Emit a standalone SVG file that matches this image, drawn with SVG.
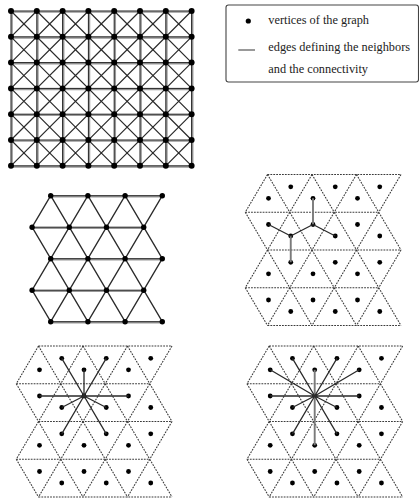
<svg xmlns="http://www.w3.org/2000/svg" xmlns:xlink="http://www.w3.org/1999/xlink" width="419" height="498" viewBox="0 0 419 498">
<style>
.dk{fill:none;stroke:#222;stroke-width:1}
.dgd{fill:none;stroke:#2a2a2a;stroke-width:1.2}
.gr{fill:none;stroke:#999;stroke-width:1.7}
.dg{fill:none;stroke:#2a2a2a;stroke-width:1.3}
.dash{fill:none;stroke:#3a3a3a;stroke-width:1.1;stroke-dasharray:1.8 1.1}
.ed{fill:none;stroke:#2a2a2a;stroke-width:1.3}
.ev{fill:none;stroke:#7a7a7a;stroke-width:1.9}
.dot{fill:#000}
.txt{font-family:"Liberation Serif","Times New Roman",serif;font-size:12.3px;fill:#222}
</style>
<defs>
<path id="gH" d="M11 11H191.6M11 36.8H191.6M11 62.6H191.6M11 88.4H191.6M11 114.2H191.6M11 140H191.6M11 165.8H191.6"/>
<path id="gV" d="M11 11V165.8M36.8 11V165.8M62.6 11V165.8M88.4 11V165.8M114.2 11V165.8M140 11V165.8M165.8 11V165.8M191.6 11V165.8"/>
<g id="gRow">
<circle cx="11" cy="0" r="3"/><circle cx="36.8" cy="0" r="3"/><circle cx="62.6" cy="0" r="3"/><circle cx="88.4" cy="0" r="3"/><circle cx="114.2" cy="0" r="3"/><circle cx="140" cy="0" r="3"/><circle cx="165.8" cy="0" r="3"/><circle cx="191.6" cy="0" r="3"/>
</g>
<path id="tH" d="M50.7 195.7H162.3M32.1 227.2H143.7M50.7 258.7H162.3M32.1 290.2H143.7M50.7 321.7H162.3"/>
<path id="tS" d="M50.7 195.7L32.1 227.2M50.7 195.7L69.3 227.2M87.9 195.7L69.3 227.2M87.9 195.7L106.5 227.2M125.1 195.7L106.5 227.2M125.1 195.7L143.7 227.2M162.3 195.7L143.7 227.2M32.1 227.2L50.7 258.7M69.3 227.2L50.7 258.7M69.3 227.2L87.9 258.7M106.5 227.2L87.9 258.7M106.5 227.2L125.1 258.7M143.7 227.2L125.1 258.7M143.7 227.2L162.3 258.7"/>
<g id="tR">
<circle cx="50.7" cy="0" r="2.7"/><circle cx="87.9" cy="0" r="2.7"/><circle cx="125.1" cy="0" r="2.7"/><circle cx="162.3" cy="0" r="2.7"/>
</g>
<g id="tL">
<circle cx="32.1" cy="0" r="2.7"/><circle cx="69.3" cy="0" r="2.7"/><circle cx="106.5" cy="0" r="2.7"/><circle cx="143.7" cy="0" r="2.7"/>
</g>
<g id="lat">
<path class="dash" d="M0 0H133.5M-22.25 37.75H111.25M0 75.5H133.5M-22.25 113.25H111.25M0 151H133.5"/>
<path id="sAB" class="dash" d="M0 0L-22.25 37.75M0 0L22.25 37.75M44.5 0L22.25 37.75M44.5 0L66.75 37.75M89 0L66.75 37.75M89 0L111.25 37.75M133.5 0L111.25 37.75M-22.25 37.75L0 75.5M22.25 37.75L0 75.5M22.25 37.75L44.5 75.5M66.75 37.75L44.5 75.5M66.75 37.75L89 75.5M111.25 37.75L89 75.5M111.25 37.75L133.5 75.5"/>
<use xlink:href="#sAB" href="#sAB" y="75.5"/>
<g class="dot">
<circle cx="23.25" cy="12.3" r="2.4"/><circle cx="67.75" cy="12.3" r="2.4"/><circle cx="112.25" cy="12.3" r="2.4"/>
<circle cx="1" cy="23.8" r="2.4"/><circle cx="45.5" cy="23.8" r="2.4"/><circle cx="90" cy="23.8" r="2.4"/>
<circle cx="1" cy="50" r="2.4"/><circle cx="45.5" cy="50" r="2.4"/><circle cx="90" cy="50" r="2.4"/>
<circle cx="23.25" cy="61.5" r="2.4"/><circle cx="67.75" cy="61.5" r="2.4"/><circle cx="112.25" cy="61.5" r="2.4"/>
<circle cx="23.25" cy="87.8" r="2.4"/><circle cx="67.75" cy="87.8" r="2.4"/><circle cx="112.25" cy="87.8" r="2.4"/>
<circle cx="1" cy="99.3" r="2.4"/><circle cx="45.5" cy="99.3" r="2.4"/><circle cx="90" cy="99.3" r="2.4"/>
<circle cx="1" cy="125.5" r="2.4"/><circle cx="45.5" cy="125.5" r="2.4"/><circle cx="90" cy="125.5" r="2.4"/>
<circle cx="23.25" cy="137" r="2.4"/><circle cx="67.75" cy="137" r="2.4"/><circle cx="112.25" cy="137" r="2.4"/>
</g>
</g>
</defs>

<g id="square-grid">
<use xlink:href="#gH" href="#gH" class="gr" y="1"/>
<use xlink:href="#gV" href="#gV" class="gr" x="1"/>
<use xlink:href="#gH" href="#gH" class="dk"/>
<use xlink:href="#gV" href="#gV" class="dk"/>
<path class="dgd" d="M11 11L165.8 165.8M36.8 11L191.6 165.8M62.6 11L191.6 140M88.4 11L191.6 114.2M114.2 11L191.6 88.4M140 11L191.6 62.6M165.8 11L191.6 36.8M11 36.8L140 165.8M11 62.6L114.2 165.8M11 88.4L88.4 165.8M11 114.2L62.6 165.8M11 140L36.8 165.8M36.8 11L11 36.8M62.6 11L11 62.6M88.4 11L11 88.4M114.2 11L11 114.2M140 11L11 140M165.8 11L11 165.8M191.6 11L36.8 165.8M191.6 36.8L62.6 165.8M191.6 62.6L88.4 165.8M191.6 88.4L114.2 165.8M191.6 114.2L140 165.8M191.6 140L165.8 165.8"/>
<g class="dot">
<use xlink:href="#gRow" href="#gRow" y="11"/>
<use xlink:href="#gRow" href="#gRow" y="36.8"/>
<use xlink:href="#gRow" href="#gRow" y="62.6"/>
<use xlink:href="#gRow" href="#gRow" y="88.4"/>
<use xlink:href="#gRow" href="#gRow" y="114.2"/>
<use xlink:href="#gRow" href="#gRow" y="140"/>
<use xlink:href="#gRow" href="#gRow" y="165.8"/>
</g>
</g>

<g id="legend">
<rect x="226" y="5" width="192.5" height="77" rx="2.5" fill="#fff" stroke="#444" stroke-width="1.1"/>
<circle cx="248.3" cy="21" r="2.6" fill="#000"/>
<line x1="238.3" y1="50" x2="255" y2="50" stroke="#999" stroke-width="2"/>
<text class="txt" x="268.3" y="24">vertices of the graph</text>
<text class="txt" x="268.3" y="51">edges defining the neighbors</text>
<text class="txt" x="268.3" y="73">and the connectivity</text>
</g>

<g id="triangle-lattice">
<use xlink:href="#tH" href="#tH" class="gr" y="1"/>
<use xlink:href="#tH" href="#tH" class="dk"/>
<use xlink:href="#tS" href="#tS" class="dg"/>
<use xlink:href="#tS" href="#tS" class="dg" y="63"/>
<g class="dot">
<use xlink:href="#tR" href="#tR" y="195.7"/>
<use xlink:href="#tL" href="#tL" y="227.2"/>
<use xlink:href="#tR" href="#tR" y="258.7"/>
<use xlink:href="#tL" href="#tL" y="290.2"/>
<use xlink:href="#tR" href="#tR" y="321.7"/>
</g>
</g>

<g id="dual-hex" transform="translate(267.5,174.5)">
<use xlink:href="#lat" href="#lat"/>
<g id="hex-edges">
<path class="ev" d="M45.5 50V23.8M23.25 61.5V87.8"/>
<path class="ed" d="M45.5 50L23.25 61.5M45.5 50L67.75 61.5M23.25 61.5L1 50"/>
</g>
</g>

<g id="dual-9" transform="translate(38.5,346)">
<use xlink:href="#lat" href="#lat"/>
<g id="nine-edges">
<path class="ed" d="M45.5 50L23.25 12.3M45.5 50L67.75 12.3M45.5 50L45.5 23.8M45.5 50L1 50M45.5 50L90 50M45.5 50L23.25 61.5M45.5 50L67.75 61.5M45.5 50L23.25 87.8M45.5 50L67.75 87.8"/>
</g>
</g>

<g id="dual-12" transform="translate(269.2,346)">
<use xlink:href="#lat" href="#lat"/>
<g id="twelve-edges">
<path class="ev" d="M45.5 50V23.8M45.5 50V99.3"/>
<path class="ed" d="M45.5 50L1 23.8M45.5 50L23.25 12.3M45.5 50L67.75 12.3M45.5 50L90 23.8M45.5 50L1 50M45.5 50L90 50M45.5 50L23.25 61.5M45.5 50L67.75 61.5M45.5 50L23.25 87.8M45.5 50L67.75 87.8"/>
</g>
</g>
</svg>
